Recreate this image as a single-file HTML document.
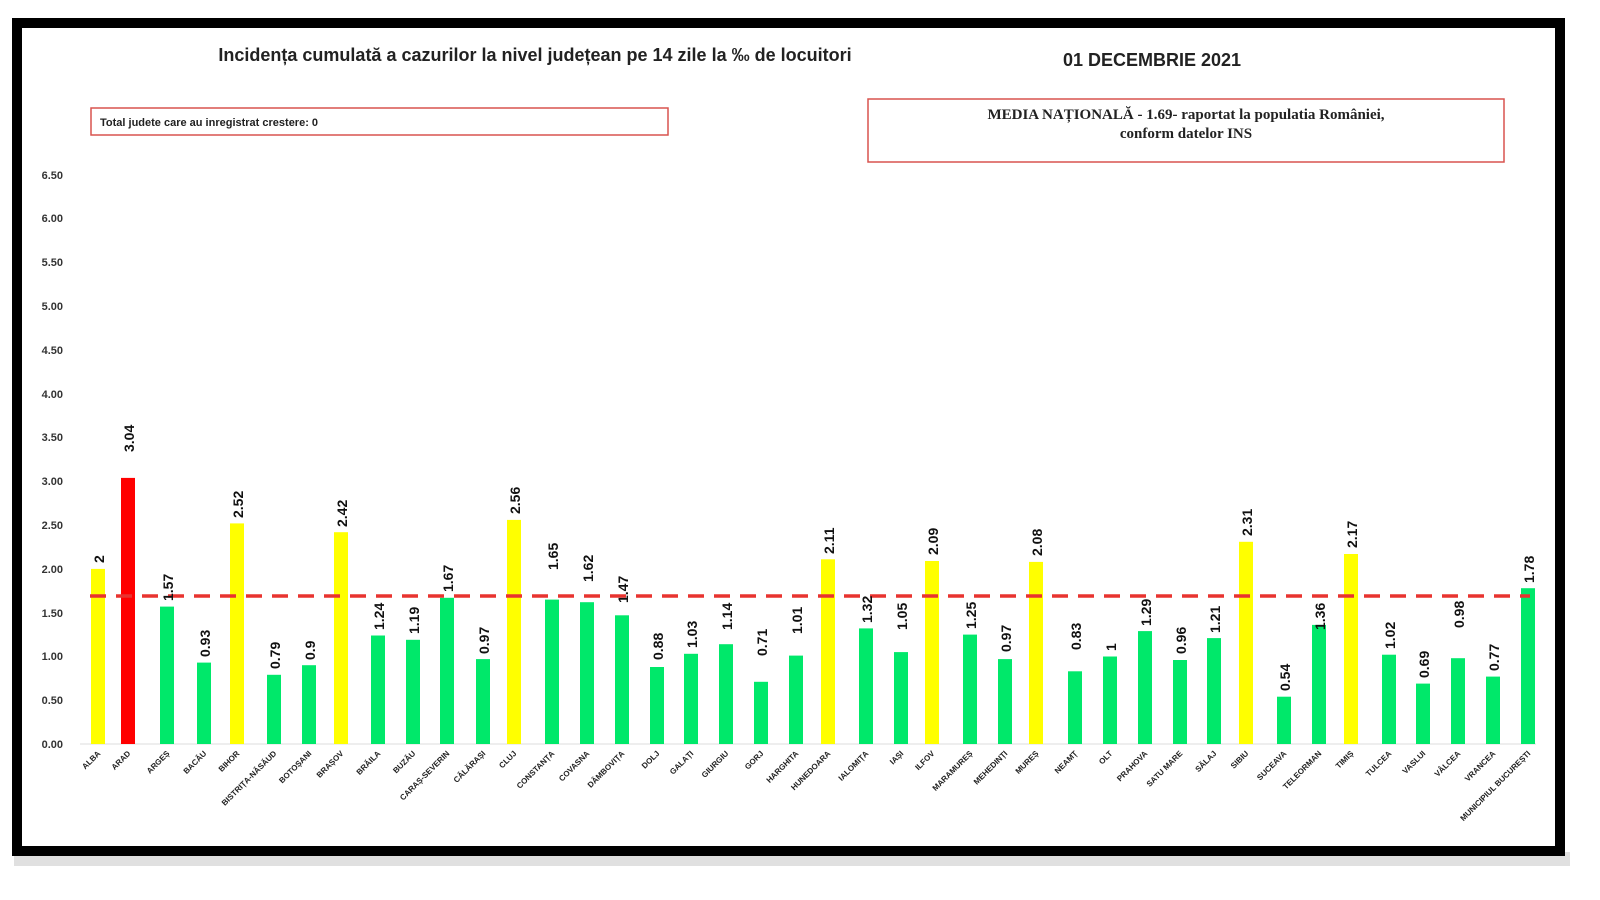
<!DOCTYPE html><html><head><meta charset="utf-8"><style>body{margin:0;background:#fff}svg{display:block}</style></head><body>
<svg width="1600" height="900" xmlns="http://www.w3.org/2000/svg" font-family="Liberation Sans, sans-serif">
<rect x="0" y="0" width="1600" height="900" fill="#fff"/>
<rect x="14" y="852" width="1556" height="14" fill="#ccc" opacity="0.6"/>
<rect x="17" y="23" width="1543" height="828" fill="#fff" stroke="#000" stroke-width="10"/>
<text x="535" y="61" font-size="18" font-weight="bold" text-anchor="middle" fill="#222">Incidența cumulată a cazurilor la nivel județean pe 14 zile la ‰ de locuitori</text>
<text x="1152" y="66" font-size="18" font-weight="bold" text-anchor="middle" fill="#222">01 DECEMBRIE 2021</text>
<rect x="91" y="108" width="577" height="27" fill="#fff" stroke="#d9534f" stroke-width="1.5"/>
<text x="100" y="126" font-size="11" font-weight="bold" fill="#222">Total judete care au inregistrat crestere: 0</text>
<rect x="868" y="99" width="636" height="63" fill="#fff" stroke="#d9534f" stroke-width="1.5"/>
<text x="1186" y="119" font-size="15" font-weight="bold" text-anchor="middle" font-family="Liberation Serif, serif" fill="#222">MEDIA NAȚIONALĂ  - 1.69-  raportat la populatia României,</text>
<text x="1186" y="138" font-size="15" font-weight="bold" text-anchor="middle" font-family="Liberation Serif, serif" fill="#222">conform datelor INS</text>
<g font-size="11" font-weight="bold" fill="#333" text-anchor="end">
<text x="63" y="748">0.00</text><text x="63" y="704">0.50</text><text x="63" y="660">1.00</text><text x="63" y="617">1.50</text><text x="63" y="573">2.00</text><text x="63" y="529">2.50</text><text x="63" y="485">3.00</text><text x="63" y="441">3.50</text><text x="63" y="398">4.00</text><text x="63" y="354">4.50</text><text x="63" y="310">5.00</text><text x="63" y="266">5.50</text><text x="63" y="222">6.00</text><text x="63" y="179">6.50</text>
</g>
<line x1="80" y1="744" x2="1536" y2="744" stroke="#ddd" stroke-width="1"/>
<g>
<rect x="91" y="568.9" width="14" height="175.1" fill="#ffff00"/>
<rect x="121" y="477.9" width="14" height="266.1" fill="#ff0000"/>
<rect x="160" y="606.6" width="14" height="137.4" fill="#00e86a"/>
<rect x="197" y="662.6" width="14" height="81.4" fill="#00e86a"/>
<rect x="230" y="523.4" width="14" height="220.6" fill="#ffff00"/>
<rect x="267" y="674.8" width="14" height="69.2" fill="#00e86a"/>
<rect x="302" y="665.2" width="14" height="78.8" fill="#00e86a"/>
<rect x="334" y="532.2" width="14" height="211.8" fill="#ffff00"/>
<rect x="371" y="635.5" width="14" height="108.5" fill="#00e86a"/>
<rect x="406" y="639.8" width="14" height="104.2" fill="#00e86a"/>
<rect x="440" y="597.8" width="14" height="146.2" fill="#00e86a"/>
<rect x="476" y="659.1" width="14" height="84.9" fill="#00e86a"/>
<rect x="507" y="519.9" width="14" height="224.1" fill="#ffff00"/>
<rect x="545" y="599.6" width="14" height="144.4" fill="#00e86a"/>
<rect x="580" y="602.2" width="14" height="141.8" fill="#00e86a"/>
<rect x="615" y="615.3" width="14" height="128.7" fill="#00e86a"/>
<rect x="650" y="667.0" width="14" height="77.0" fill="#00e86a"/>
<rect x="684" y="653.8" width="14" height="90.2" fill="#00e86a"/>
<rect x="719" y="644.2" width="14" height="99.8" fill="#00e86a"/>
<rect x="754" y="681.8" width="14" height="62.2" fill="#00e86a"/>
<rect x="789" y="655.6" width="14" height="88.4" fill="#00e86a"/>
<rect x="821" y="559.3" width="14" height="184.7" fill="#ffff00"/>
<rect x="859" y="628.4" width="14" height="115.6" fill="#00e86a"/>
<rect x="894" y="652.1" width="14" height="91.9" fill="#00e86a"/>
<rect x="925" y="561.0" width="14" height="183.0" fill="#ffff00"/>
<rect x="963" y="634.6" width="14" height="109.4" fill="#00e86a"/>
<rect x="998" y="659.1" width="14" height="84.9" fill="#00e86a"/>
<rect x="1029" y="561.9" width="14" height="182.1" fill="#ffff00"/>
<rect x="1068" y="671.3" width="14" height="72.7" fill="#00e86a"/>
<rect x="1103" y="656.5" width="14" height="87.5" fill="#00e86a"/>
<rect x="1138" y="631.1" width="14" height="112.9" fill="#00e86a"/>
<rect x="1173" y="660.0" width="14" height="84.0" fill="#00e86a"/>
<rect x="1207" y="638.1" width="14" height="105.9" fill="#00e86a"/>
<rect x="1239" y="541.8" width="14" height="202.2" fill="#ffff00"/>
<rect x="1277" y="696.7" width="14" height="47.3" fill="#00e86a"/>
<rect x="1312" y="624.9" width="14" height="119.1" fill="#00e86a"/>
<rect x="1344" y="554.0" width="14" height="190.0" fill="#ffff00"/>
<rect x="1382" y="654.7" width="14" height="89.3" fill="#00e86a"/>
<rect x="1416" y="683.6" width="14" height="60.4" fill="#00e86a"/>
<rect x="1451" y="658.2" width="14" height="85.8" fill="#00e86a"/>
<rect x="1486" y="676.6" width="14" height="67.4" fill="#00e86a"/>
<rect x="1521" y="588.2" width="14" height="155.8" fill="#00e86a"/>
</g>
<line x1="90" y1="596" x2="1530" y2="596" stroke="#e8332f" stroke-width="3.5" stroke-dasharray="16 10"/>
<g font-size="14" font-weight="bold" fill="#111">
<text transform="translate(104,563) rotate(-90)">2</text>
<text transform="translate(134,452) rotate(-90)">3.04</text>
<text transform="translate(173,601) rotate(-90)">1.57</text>
<text transform="translate(210,657) rotate(-90)">0.93</text>
<text transform="translate(243,518) rotate(-90)">2.52</text>
<text transform="translate(280,669) rotate(-90)">0.79</text>
<text transform="translate(315,660) rotate(-90)">0.9</text>
<text transform="translate(347,527) rotate(-90)">2.42</text>
<text transform="translate(384,630) rotate(-90)">1.24</text>
<text transform="translate(419,634) rotate(-90)">1.19</text>
<text transform="translate(453,592) rotate(-90)">1.67</text>
<text transform="translate(489,654) rotate(-90)">0.97</text>
<text transform="translate(520,514) rotate(-90)">2.56</text>
<text transform="translate(558,570) rotate(-90)">1.65</text>
<text transform="translate(593,582) rotate(-90)">1.62</text>
<text transform="translate(628,603) rotate(-90)">1.47</text>
<text transform="translate(663,660) rotate(-90)">0.88</text>
<text transform="translate(697,648) rotate(-90)">1.03</text>
<text transform="translate(732,630) rotate(-90)">1.14</text>
<text transform="translate(767,656) rotate(-90)">0.71</text>
<text transform="translate(802,634) rotate(-90)">1.01</text>
<text transform="translate(834,554) rotate(-90)">2.11</text>
<text transform="translate(872,623) rotate(-90)">1.32</text>
<text transform="translate(907,630) rotate(-90)">1.05</text>
<text transform="translate(938,555) rotate(-90)">2.09</text>
<text transform="translate(976,629) rotate(-90)">1.25</text>
<text transform="translate(1011,652) rotate(-90)">0.97</text>
<text transform="translate(1042,556) rotate(-90)">2.08</text>
<text transform="translate(1081,650) rotate(-90)">0.83</text>
<text transform="translate(1116,651) rotate(-90)">1</text>
<text transform="translate(1151,626) rotate(-90)">1.29</text>
<text transform="translate(1186,654) rotate(-90)">0.96</text>
<text transform="translate(1220,633) rotate(-90)">1.21</text>
<text transform="translate(1252,536) rotate(-90)">2.31</text>
<text transform="translate(1290,691) rotate(-90)">0.54</text>
<text transform="translate(1325,630) rotate(-90)">1.36</text>
<text transform="translate(1357,548) rotate(-90)">2.17</text>
<text transform="translate(1395,649) rotate(-90)">1.02</text>
<text transform="translate(1429,678) rotate(-90)">0.69</text>
<text transform="translate(1464,628) rotate(-90)">0.98</text>
<text transform="translate(1499,671) rotate(-90)">0.77</text>
<text transform="translate(1534,583) rotate(-90)">1.78</text>
</g>
<g font-size="8" font-weight="bold" fill="#222" text-anchor="end">
<text transform="translate(101,754) rotate(-45)">ALBA</text>
<text transform="translate(131,754) rotate(-45)">ARAD</text>
<text transform="translate(170,754) rotate(-45)">ARGEȘ</text>
<text transform="translate(207,754) rotate(-45)">BACĂU</text>
<text transform="translate(240,754) rotate(-45)">BIHOR</text>
<text transform="translate(277,754) rotate(-45)">BISTRIȚA-NĂSĂUD</text>
<text transform="translate(312,754) rotate(-45)">BOTOȘANI</text>
<text transform="translate(344,754) rotate(-45)">BRAȘOV</text>
<text transform="translate(381,754) rotate(-45)">BRĂILA</text>
<text transform="translate(416,754) rotate(-45)">BUZĂU</text>
<text transform="translate(450,754) rotate(-45)">CARAȘ-SEVERIN</text>
<text transform="translate(486,754) rotate(-45)">CĂLĂRAȘI</text>
<text transform="translate(517,754) rotate(-45)">CLUJ</text>
<text transform="translate(555,754) rotate(-45)">CONSTANȚA</text>
<text transform="translate(590,754) rotate(-45)">COVASNA</text>
<text transform="translate(625,754) rotate(-45)">DÂMBOVIȚA</text>
<text transform="translate(660,754) rotate(-45)">DOLJ</text>
<text transform="translate(694,754) rotate(-45)">GALAȚI</text>
<text transform="translate(729,754) rotate(-45)">GIURGIU</text>
<text transform="translate(764,754) rotate(-45)">GORJ</text>
<text transform="translate(799,754) rotate(-45)">HARGHITA</text>
<text transform="translate(831,754) rotate(-45)">HUNEDOARA</text>
<text transform="translate(869,754) rotate(-45)">IALOMIȚA</text>
<text transform="translate(904,754) rotate(-45)">IAȘI</text>
<text transform="translate(935,754) rotate(-45)">ILFOV</text>
<text transform="translate(973,754) rotate(-45)">MARAMUREȘ</text>
<text transform="translate(1008,754) rotate(-45)">MEHEDINȚI</text>
<text transform="translate(1039,754) rotate(-45)">MUREȘ</text>
<text transform="translate(1078,754) rotate(-45)">NEAMȚ</text>
<text transform="translate(1113,754) rotate(-45)">OLT</text>
<text transform="translate(1148,754) rotate(-45)">PRAHOVA</text>
<text transform="translate(1183,754) rotate(-45)">SATU MARE</text>
<text transform="translate(1217,754) rotate(-45)">SĂLAJ</text>
<text transform="translate(1249,754) rotate(-45)">SIBIU</text>
<text transform="translate(1287,754) rotate(-45)">SUCEAVA</text>
<text transform="translate(1322,754) rotate(-45)">TELEORMAN</text>
<text transform="translate(1354,754) rotate(-45)">TIMIȘ</text>
<text transform="translate(1392,754) rotate(-45)">TULCEA</text>
<text transform="translate(1426,754) rotate(-45)">VASLUI</text>
<text transform="translate(1461,754) rotate(-45)">VÂLCEA</text>
<text transform="translate(1496,754) rotate(-45)">VRANCEA</text>
<text transform="translate(1531,754) rotate(-45)">MUNICIPIUL BUCUREȘTI</text>
</g>
</svg>
</body></html>
